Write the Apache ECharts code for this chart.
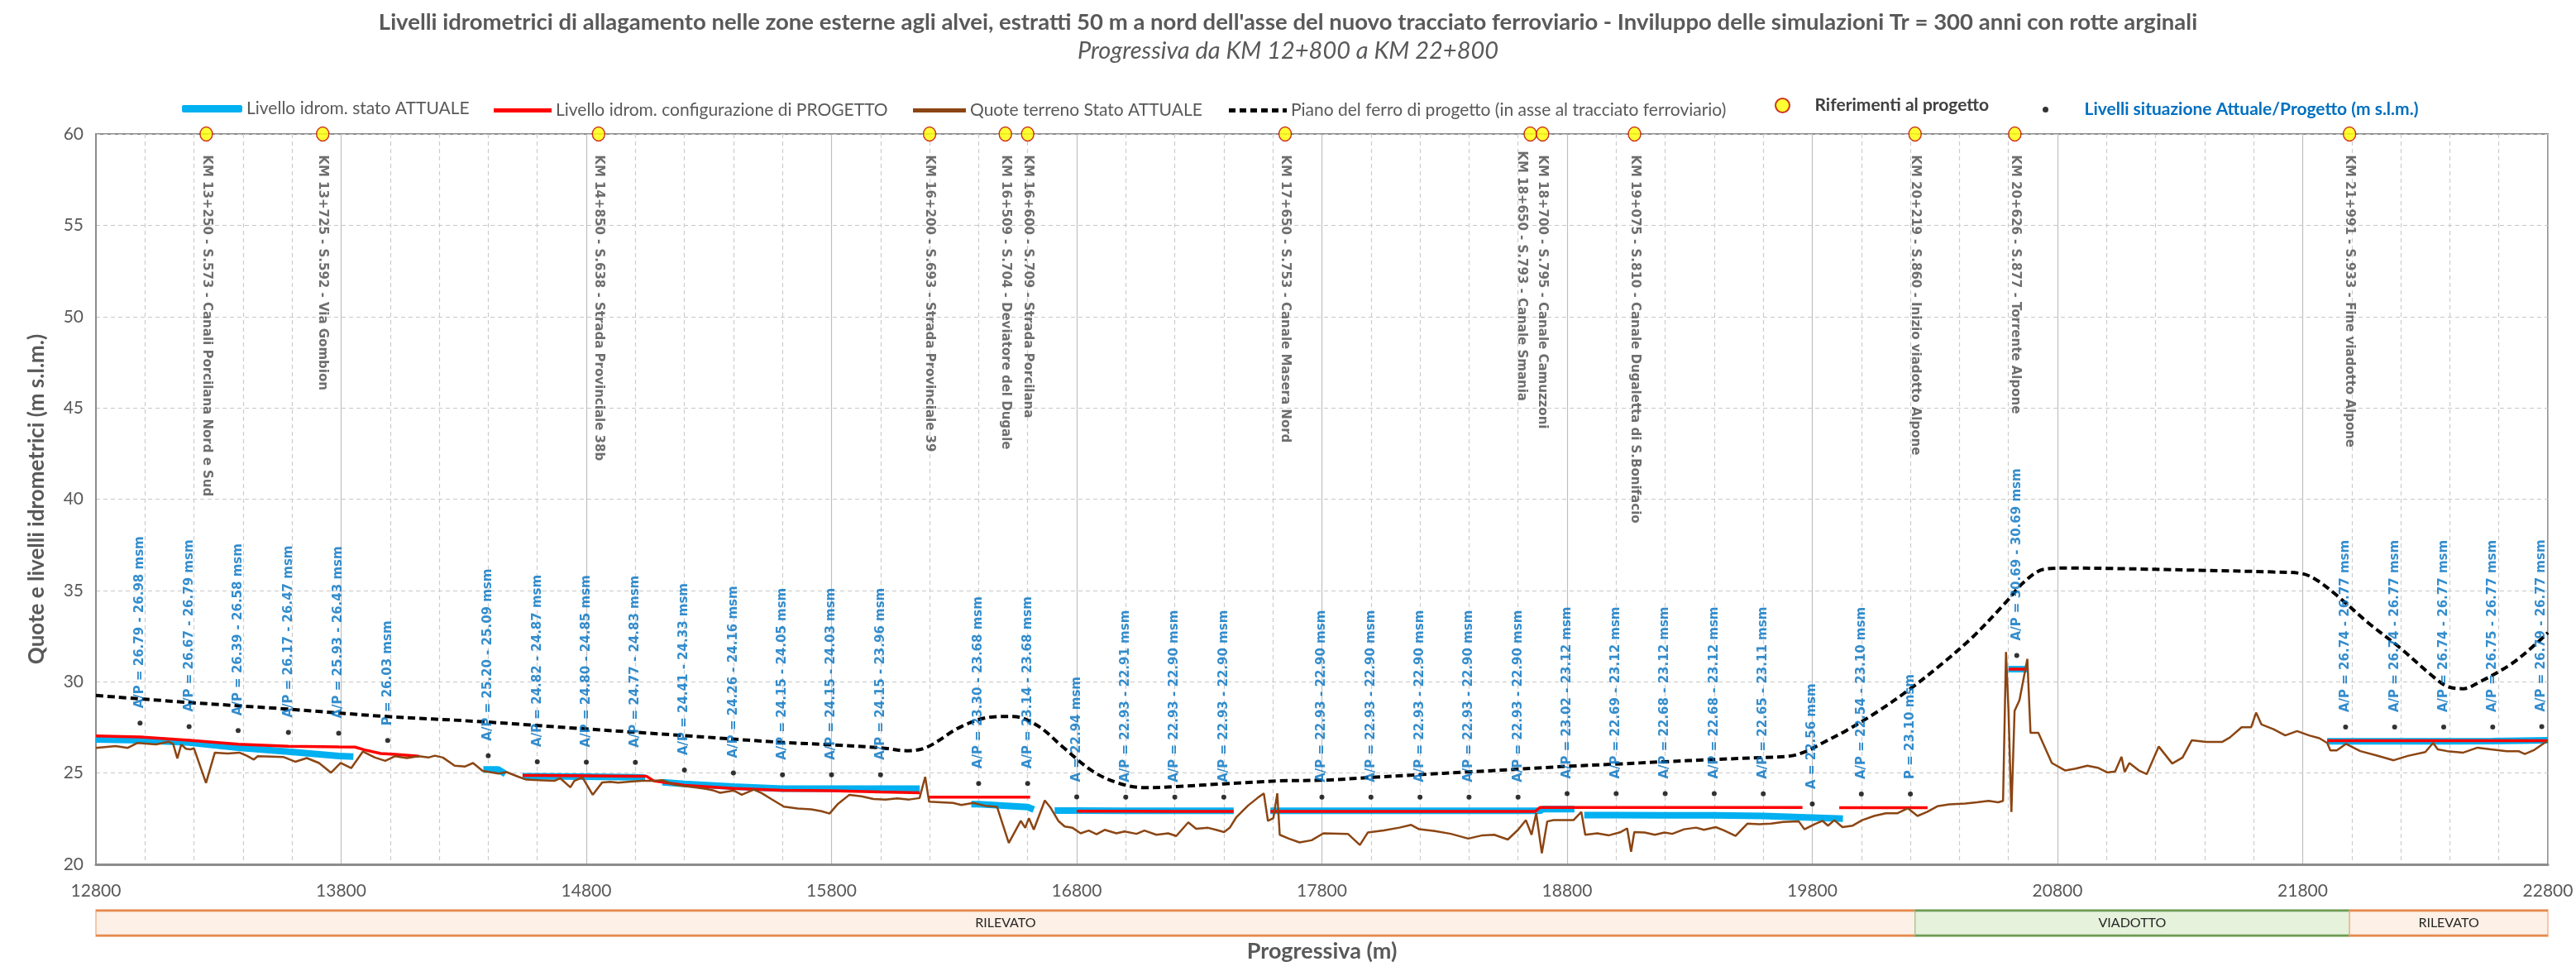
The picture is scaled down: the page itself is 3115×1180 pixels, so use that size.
<!DOCTYPE html>
<html><head><meta charset="utf-8">
<script src="https://cdn.jsdelivr.net/npm/echarts@6/dist/echarts.min.js"></script>
<style>html,body{margin:0;padding:0;background:#fff}#c{width:3115px;height:1180px}</style>
</head><body><div id="c"></div>
<script>
// ---------- DATA ----------
const xRange = [12800, 22800];
const yRange = [20, 60];

// reference points (yellow markers on top)
const refX = [13250,13725,14850,16200,16509,16600,17650,18650,18700,19075,20219,20626,21991];
const refY = [60,60,60,60,60,60,60,60,60,60,60,60,60];
const refLabels = [
 'KM 13+250 - S.573 - Canali Porcilana Nord e Sud',
 'KM 13+725 - S.592 - Via Gombion',
 'KM 14+850 - S.638 - Strada Provinciale 38b',
 'KM 16+200 - S.693 - Strada Provinciale 39',
 'KM 16+509 - S.704 - Deviatore del Dugale',
 'KM 16+600 - S.709 - Strada Porcilana',
 'KM 17+650 - S.753 - Canale Masera Nord',
 'KM 18+650 - S.793 - Canale Smania',
 'KM 18+700 - S.795 - Canale Camuzzoni',
 'KM 19+075 - S.810 - Canale Dugaletta di S.Bonifacio',
 'KM 20+219 - S.860 - Inizio viadotto Alpone',
 'KM 20+626 - S.877 - Torrente Alpone',
 'KM 21+991 - S.933 - Fine viadotto Alpone'
];

// level points (black dots + blue labels)
const levelX = [12980,13180,13380,13585,13790,13990,14400,14600,14800,15000,15200,15400,15600,15800,16000,
 16400,16600,16800,17000,17200,17400,17800,18000,18200,18400,18600,18800,19000,19200,19400,19600,19800,20000,20200,
 20634,21975,22175,22375,22575,22775];
const levelDotY = [27.73,27.54,27.33,27.22,27.18,26.78,25.95,25.62,25.60,25.58,25.16,25.01,24.90,24.90,24.90,
 24.43,24.43,23.69,23.68,23.68,23.68,23.68,23.68,23.68,23.68,23.68,23.87,23.87,23.87,23.87,23.86,23.31,23.85,23.85,
 31.44,27.52,27.52,27.52,27.52,27.54];
const levelLabels = [
 'A/P = 26.79 - 26.98 msm','A/P = 26.67 - 26.79 msm','A/P = 26.39 - 26.58 msm','A/P = 26.17 - 26.47 msm',
 'A/P = 25.93 - 26.43 msm','P = 26.03 msm','A/P = 25.20 - 25.09 msm','A/P = 24.82 - 24.87 msm',
 'A/P = 24.80 - 24.85 msm','A/P = 24.77 - 24.83 msm','A/P = 24.41 - 24.33 msm','A/P = 24.26 - 24.16 msm',
 'A/P = 24.15 - 24.05 msm','A/P = 24.15 - 24.03 msm','A/P = 24.15 - 23.96 msm','A/P = 23.30 - 23.68 msm',
 'A/P = 23.14 - 23.68 msm','A = 22.94 msm','A/P = 22.93 - 22.91 msm','A/P = 22.93 - 22.90 msm',
 'A/P = 22.93 - 22.90 msm','A/P = 22.93 - 22.90 msm','A/P = 22.93 - 22.90 msm','A/P = 22.93 - 22.90 msm',
 'A/P = 22.93 - 22.90 msm','A/P = 22.93 - 22.90 msm','A/P = 23.02 - 23.12 msm','A/P = 22.69 - 23.12 msm',
 'A/P = 22.68 - 23.12 msm','A/P = 22.68 - 23.12 msm','A/P = 22.65 - 23.11 msm','A = 22.56 msm',
 'A/P = 22.54 - 23.10 msm','P = 23.10 msm','A/P = 30.69 - 30.69 msm','A/P = 26.74 - 26.77 msm',
 'A/P = 26.74 - 26.77 msm','A/P = 26.74 - 26.77 msm','A/P = 26.75 - 26.77 msm','A/P = 26.79 - 26.77 msm'
];

// water level, current state (segments)
const levelAttuale = [
 [[12800,26.84],[12980,26.79],[13180,26.67],[13380,26.39],[13585,26.17],[13790,25.93],[13850,25.90]],
 [[14380,25.20],[14440,25.20],[14470,24.95]],
 [[14540,24.82],[14600,24.82],[14800,24.80],[15000,24.77],[15040,24.75]],
 [[15110,24.50],[15200,24.41],[15400,24.26],[15600,24.15],[15800,24.15],[16000,24.15],[16160,24.15]],
 [[16370,23.30],[16400,23.30],[16600,23.14],[16625,23.00]],
 [[16710,22.94],[16800,22.94],[17000,22.93],[17200,22.93],[17440,22.93]],
 [[17590,22.93],[18690,22.93],[18700,23.02],[18830,23.02]],
 [[18870,22.69],[19000,22.69],[19200,22.68],[19400,22.68],[19600,22.65],[19800,22.56],[19925,22.50]],
 [[20600,30.69],[20675,30.69]],
 [[21900,26.74],[22175,26.74],[22375,26.74],[22575,26.75],[22800,26.79]]
];

// water level, project configuration (segments)
const levelProgetto = [
 [[12800,27.03],[12980,26.98],[13180,26.79],[13380,26.58],[13585,26.47],[13790,26.43],[13857,26.42],[13896,26.27],[13961,26.07],[14020,26.02],[14117,25.92]],
 [[14540,24.87],[14600,24.87],[14800,24.85],[15000,24.83],[15045,24.83],[15075,24.57],[15200,24.33],[15400,24.16],[15600,24.05],[15800,24.03],[16000,23.96],[16160,23.92]],
 [[16195,23.68],[16610,23.68]],
 [[16800,22.91],[17000,22.91],[17200,22.90],[17440,22.90]],
 [[17590,22.90],[18670,22.90],[18690,23.12],[19600,23.11],[19760,23.11]],
 [[19910,23.10],[20270,23.10]],
 [[20600,30.69],[20675,30.69]],
 [[21900,26.77],[22800,26.77]]
];

// ground level, current state
const terrain = [
 [12800,26.38],[12880,26.48],[12930,26.38],[12970,26.65],[13045,26.57],[13095,26.72],[13115,26.60],[13132,25.80],[13148,26.56],[13167,26.33],[13185,26.30],[13200,26.35],[13249,24.46],[13285,26.12],[13337,26.07],[13385,26.12],[13415,25.95],[13444,25.74],[13460,25.92],[13515,25.90],[13564,25.88],[13613,25.62],[13660,25.82],[13710,25.55],[13759,25.02],[13798,25.55],[13841,25.27],[13889,26.18],[13938,25.85],[13980,25.67],[14019,25.92],[14068,25.82],[14117,25.92],[14156,25.85],[14182,25.95],[14215,25.85],[14263,25.40],[14306,25.36],[14338,25.55],[14377,25.12],[14442,24.97],[14475,25.05],[14524,24.79],[14556,24.64],[14605,24.61],[14670,24.57],[14693,24.72],[14735,24.22],[14751,24.57],[14784,24.76],[14826,23.81],[14865,24.49],[14898,24.52],[14930,24.47],[14979,24.53],[15028,24.57],[15075,24.57],[15109,24.61],[15158,24.37],[15190,24.30],[15239,24.22],[15288,24.13],[15320,24.04],[15346,23.92],[15402,24.04],[15434,23.81],[15483,24.09],[15515,23.90],[15554,23.58],[15606,23.16],[15662,23.06],[15717,23.01],[15759,22.91],[15792,22.78],[15824,23.28],[15873,23.81],[15922,23.73],[15971,23.58],[16020,23.55],[16068,23.61],[16117,23.55],[16159,23.63],[16182,24.79],[16198,23.43],[16247,23.40],[16296,23.36],[16329,23.25],[16378,23.36],[16426,23.21],[16475,23.15],[16523,21.17],[16572,22.38],[16590,22.00],[16605,22.53],[16625,21.90],[16670,23.50],[16692,23.13],[16725,22.38],[16751,22.07],[16783,22.00],[16816,21.70],[16849,21.85],[16881,21.65],[16914,21.89],[16962,21.70],[16995,21.80],[17044,21.67],[17076,21.85],[17125,21.62],[17173,21.70],[17206,21.55],[17255,22.30],[17287,21.95],[17336,22.00],[17368,21.89],[17401,21.77],[17424,22.00],[17450,22.56],[17498,23.21],[17537,23.63],[17563,23.89],[17580,22.38],[17602,22.53],[17618,23.89],[17628,21.62],[17667,21.40],[17709,21.20],[17758,21.32],[17806,21.70],
 [17906,21.67],[17955,21.06],[17987,21.74],[18052,21.86],[18116,22.01],[18164,22.16],[18197,21.92],[18261,21.82],[18326,21.67],[18397,21.41],[18455,21.59],[18503,21.62],[18558,21.36],[18600,21.89],[18632,22.42],[18655,21.62],[18674,22.80],[18697,20.61],[18719,22.35],[18745,22.42],[18777,22.42],[18826,22.42],[18858,22.87],[18874,21.62],[18923,21.70],[18971,21.59],[19019,21.77],[19045,21.97],[19061,20.69],[19074,21.77],[19116,21.74],[19158,21.62],[19197,21.74],[19229,21.67],[19277,21.92],[19326,22.01],[19358,21.89],[19406,22.04],[19439,21.86],[19487,21.56],[19535,22.23],[19584,22.20],[19632,22.23],[19681,22.32],[19745,22.35],[19768,21.92],[19810,22.20],[19842,22.38],[19864,22.12],[19890,22.42],[19923,22.04],[19965,22.12],[20003,22.42],[20052,22.65],[20100,22.80],[20148,22.80],[20190,23.07],[20229,22.65],[20268,22.87],[20310,23.18],[20358,23.28],[20423,23.33],[20471,23.40],[20519,23.48],[20558,23.40],[20578,23.48],[20590,31.63],[20600,28.50],[20612,22.87],[20625,28.40],[20645,28.99],[20677,31.25],[20690,27.20],[20722,27.20],[20777,25.55],[20832,25.14],[20874,25.24],[20922,25.40],[20964,25.29],[21003,25.03],[21035,25.09],[21061,25.89],[21074,25.06],[21093,25.55],[21132,25.14],[21164,24.94],[21213,26.45],[21268,25.52],[21310,25.85],[21348,26.80],[21406,26.70],[21471,26.70],[21503,26.95],[21551,27.51],[21590,27.51],[21610,28.31],[21632,27.66],[21681,27.40],[21729,27.06],[21777,27.30],[21826,27.06],[21868,26.91],[21900,26.65],[21913,26.24],[21939,26.24],[21977,26.60],[22035,26.20],[22100,25.97],[22171,25.70],[22229,25.94],[22300,26.15],[22332,26.65],[22351,26.30],[22390,26.20],[22455,26.12],[22513,26.39],[22568,26.30],[22632,26.20],[22680,26.20],[22706,26.04],[22745,26.27],[22793,26.72],[22800,26.75]
];

// rail top level (project)
const railLevel = [
 [12800,29.25],[13174,28.87],[13564,28.52],[13971,28.11],[14377,27.81],[14784,27.43],[15190,27.06],[15597,26.68],[15800,26.55],[16000,26.38],[16110,26.22],[16190,26.42],[16330,27.55],[16460,28.08],[16540,28.10],[16640,27.60],[16750,26.35],[16865,25.10],[16970,24.45],[17076,24.20],[17206,24.26],[17401,24.41],[17628,24.57],[17810,24.61],[18000,24.76],[18197,24.91],[18394,25.06],[18597,25.21],[18800,25.37],[18997,25.49],[19197,25.62],[19394,25.74],[19594,25.85],[19713,25.94],[19777,26.20],[19842,26.65],[19939,27.33],[20068,28.38],[20197,29.59],[20326,30.95],[20455,32.46],[20584,34.27],[20665,35.48],[20745,36.16],[20842,36.23],[21035,36.20],[21358,36.11],[21681,36.01],[21794,35.93],[21858,35.56],[21939,34.73],[22068,33.22],[22197,31.86],[22326,30.35],[22390,29.74],[22455,29.62],[22519,29.97],[22648,30.95],[22745,32.00],[22800,32.69]
];

// bottom band (works type)
const bandStart = [12800, 20219, 21991];
const bandEnd = [20219, 21991, 22800];
const bandNames = ['RILEVATO', 'VIADOTTO', 'RILEVATO'];

// ---------- HELPERS ----------
function joinSegments(list){
  const out = [];
  list.forEach((s, i) => {
    if (i > 0) out.push([s[0][0], '-']);
    s.forEach(p => out.push(p));
  });
  return out;
}
const refData = refX.map((x, i) => {
  const d = {value: [x, refY[i]]};
  if (refLabels[i].indexOf('18+650') >= 0) d.label = {offset: [-5, 11]};
  return d;
});
const levelData = levelX.map((x, i) => [x, levelDotY[i]]);
const bandData = bandStart.map((s, i) => [s, bandEnd[i], i]);

const GREY = '#595959';
const chart = echarts.init(document.getElementById('c'));

const DASH_ICON = 'path://M0,0h8v5h-8z M13,0h8v5h-8z M26,0h8v5h-8z M39,0h8v5h-8z M52,0h8v5h-8z M65,0h5v5h-5z';
const legendBase = (item, left, top, w, h, extra) => Object.assign({
  data: [item], left: left, top: top, itemWidth: w, itemHeight: h,
  textStyle: {fontFamily: 'Lato', fontSize: 21, color: GREY}, selectedMode: false
}, extra || {});

chart.setOption({
  animation: false,
  backgroundColor: '#ffffff',
  title: {
    text: "Livelli idrometrici di allagamento nelle zone esterne agli alvei, estratti 50 m a nord dell'asse del nuovo tracciato ferroviario - Inviluppo delle simulazioni Tr = 300 anni con rotte arginali",
    subtext: 'Progressiva da KM 12+800 a KM 22+800',
    left: 'center', top: 8, itemGap: 6,
    textStyle: {fontFamily: 'Lato', fontSize: 27.5, fontWeight: 'bold', color: GREY},
    subtextStyle: {fontFamily: 'Lato', fontSize: 29, fontStyle: 'italic', color: GREY}
  },
  legend: [
    legendBase({name: 'Livello idrom. stato ATTUALE', icon: 'roundRect'}, 215, 116, 73, 9),
    legendBase({name: 'Livello idrom. configurazione di PROGETTO', icon: 'rect'}, 592, 118, 70, 5),
    legendBase({name: 'Quote terreno Stato ATTUALE', icon: 'rect'}, 1099, 118, 64, 5),
    legendBase({name: 'Piano del ferro di progetto (in asse al tracciato ferroviario)', icon: DASH_ICON}, 1481, 118, 70, 5),
    legendBase('Riferimenti al progetto', 2141, 112, 40, 17, {textStyle: {fontFamily: 'Lato', fontSize: 21, fontWeight: 'bold', color: '#404040', padding: [0, 0, 0, 14]}}),
    legendBase('Livelli situazione Attuale/Progetto (m s.l.m.)', 2465, 117, 40, 7, {textStyle: {fontFamily: 'Lato', fontSize: 21, fontWeight: 'bold', color: '#0070C0', padding: [0, 0, 0, 22]}})
  ],
  grid: [
    {left: 116, right: 34, top: 162, bottom: 135, show: true, borderColor: '#8c8c8c', borderWidth: 2},
    {left: 116, right: 34, top: 1100, height: 32}
  ],
  xAxis: [
    {type: 'value', gridIndex: 0, min: xRange[0], max: xRange[1], interval: 1000,
     axisLine: {show: true, onZero: false, lineStyle: {color: '#8c8c8c', width: 3}},
     axisTick: {show: false},
     axisLabel: {fontFamily: 'Lato', fontSize: 21, color: GREY, margin: 22, formatter: v => String(v)},
     splitLine: {show: true, lineStyle: {color: '#bfbfbf', width: 1.2}},
     minorTick: {show: false, splitNumber: 5},
     minorSplitLine: {show: true, lineStyle: {color: '#cccccc', width: 1.2, type: [5, 4]}},
     name: 'Progressiva (m)', nameLocation: 'middle', nameGap: 92,
     nameTextStyle: {fontFamily: 'Lato', fontSize: 27, fontWeight: 'bold', color: GREY}},
    {type: 'value', gridIndex: 1, min: xRange[0], max: xRange[1], show: false}
  ],
  yAxis: [
    {type: 'value', gridIndex: 0, min: yRange[0], max: yRange[1], interval: 5,
     axisLine: {show: true, lineStyle: {color: '#8c8c8c', width: 2}},
     axisTick: {show: false},
     axisLabel: {fontFamily: 'Lato', fontSize: 21, color: GREY, margin: 15},
     splitLine: {show: true, lineStyle: {color: '#c8c8c8', width: 1.2, type: [5, 4]}},
     name: 'Quote e livelli idrometrici (m s.l.m.)', nameLocation: 'middle', nameGap: 58,
     nameTextStyle: {fontFamily: 'Lato', fontSize: 26, fontWeight: 'bold', color: GREY}},
    {type: 'value', gridIndex: 1, min: 0, max: 1, show: false}
  ],
  series: [
    {name: 'Livello idrom. stato ATTUALE', type: 'line', xAxisIndex: 0, yAxisIndex: 0,
     data: joinSegments(levelAttuale), symbol: 'none', connectNulls: false, z: 2,
     lineStyle: {color: '#00B0F0', width: 8}, itemStyle: {color: '#00B0F0'}},
    {name: 'Livello idrom. configurazione di PROGETTO', type: 'line',
     data: joinSegments(levelProgetto), symbol: 'none', connectNulls: false, z: 3,
     lineStyle: {color: '#FF0000', width: 3.5}, itemStyle: {color: '#FF0000'}},
    {name: 'Quote terreno Stato ATTUALE', type: 'line', data: terrain, symbol: 'none', z: 4,
     lineStyle: {color: '#8B4513', width: 2.5}, itemStyle: {color: '#8B4513'}},
    {name: 'Piano del ferro di progetto (in asse al tracciato ferroviario)', type: 'line', data: railLevel,
     symbol: 'none', smooth: 0.35, z: 5,
     lineStyle: {color: '#000000', width: 4, type: [9, 5]}, itemStyle: {color: '#000000'}},
    {name: 'Riferimenti al progetto', type: 'scatter', data: refData, clip: false, z: 7,
     symbol: 'circle', symbolSize: [15, 17],
     itemStyle: {color: '#FFFF00', borderColor: '#C00000', borderWidth: 1.5},
     label: {show: true, position: 'bottom', distance: 16, rotate: -90, align: 'left', verticalAlign: 'middle',
       formatter: p => refLabels[p.dataIndex],
       fontFamily: 'DejaVu Sans', fontWeight: 'bold', fontSize: 15, color: '#4a4a4a'}},
    {name: 'Livelli situazione Attuale/Progetto (m s.l.m.)', type: 'scatter', data: levelData, z: 6,
     symbol: 'circle', symbolSize: 6, itemStyle: {color: '#000000'},
     label: {show: true, position: 'top', distance: 15, rotate: 90, align: 'left', verticalAlign: 'middle',
       formatter: p => levelLabels[p.dataIndex],
       fontFamily: 'DejaVu Sans', fontWeight: 'bold', fontSize: 15, color: '#0070C0'}},
    {type: 'custom', xAxisIndex: 1, yAxisIndex: 1, data: bandData, silent: true,
     renderItem: function (params, api) {
       const s = api.coord([api.value(0), 1]);
       const e = api.coord([api.value(1), 0]);
       const name = bandNames[api.value(2)];
       const isV = name === 'VIADOTTO';
       const edge = isV ? '#6f9a55' : '#e58a4e';
       return {type: 'group', children: [
         {type: 'rect', shape: {x: s[0], y: s[1], width: e[0] - s[0], height: e[1] - s[1]},
          style: {fill: isV ? '#e6f2dc' : '#fdf0e6', stroke: isV ? '#a8c896' : '#f3b690', lineWidth: 1.5}},
         {type: 'line', shape: {x1: s[0], y1: s[1] + 1, x2: e[0], y2: s[1] + 1}, style: {stroke: edge, lineWidth: 2.5}},
         {type: 'line', shape: {x1: s[0], y1: e[1] - 1, x2: e[0], y2: e[1] - 1}, style: {stroke: edge, lineWidth: 2.5}},
         {type: 'text', style: {text: name, x: (s[0] + e[0]) / 2, y: (s[1] + e[1]) / 2, align: 'center', verticalAlign: 'middle',
           fill: '#262626', fontFamily: 'Lato', fontSize: 16}}
       ]};
     }}
  ]
});
</script></body></html>
